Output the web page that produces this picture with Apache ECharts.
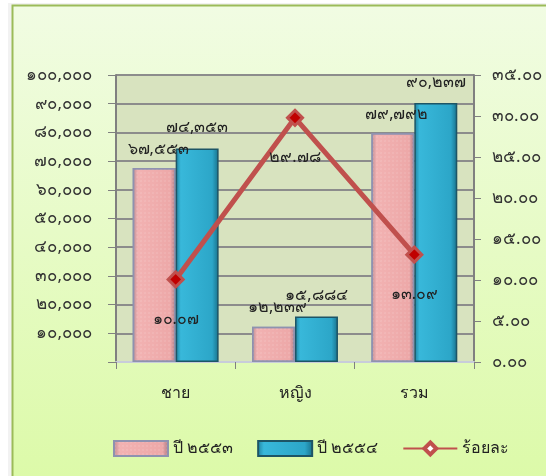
<!DOCTYPE html>
<html><head><meta charset="utf-8">
<script src="https://cdn.jsdelivr.net/npm/echarts@6/dist/echarts.min.js"></script>
<style>html,body{margin:0;padding:0;background:#fff}#c{width:546px;height:476px}</style>
</head><body><div id="c"></div>
<script>
const categories = ['ชาย', 'หญิง', 'รวม'];
const seriesNames = ['ปี ๒๕๕๓', 'ปี ๒๕๕๔', 'ร้อยละ'];
const values2553 = [67553, 12239, 79792];
const values2554 = [74353, 15884, 90237];
const percent = [10.07, 29.78, 13.09];

const TH = '๐๑๒๓๔๕๖๗๘๙';
const th = s => String(s).replace(/\d/g, d => TH[d]);
const comma = n => String(Math.round(n)).replace(/\B(?=(\d{3})+(?!\d))/g, ',');
const FONT = 'Tahoma, "Noto Sans", "DejaVu Sans", sans-serif';

const chart = echarts.init(document.getElementById('c'), null, {renderer: 'canvas'});
chart.setOption({
  animation: false,
  backgroundColor: '#ffffff',
  graphic: [
    {type: 'rect', z: -10, shape: {x: 8, y: 3, width: 546, height: 480},
     style: {fill: 'rgba(0,0,0,0.05)'}},
    {type: 'rect', z: -9, shape: {x: 12.5, y: 5.5, width: 540, height: 476},
     style: {fill: new echarts.graphic.LinearGradient(0, 0, 0, 1, [
       {offset: 0, color: '#F1FCE3'}, {offset: 1, color: '#DCFAA8'}]),
       stroke: '#9BBB59', lineWidth: 2}}
  ],
  grid: {left: 116, right: 72, top: 75, bottom: 114, show: true,
         backgroundColor: '#D8E3BF', borderWidth: 0},
  legend: {
    top: 435, left: 108, itemWidth: 54, itemHeight: 15, itemGap: 24,
    textStyle: {fontFamily: FONT, fontSize: 16, color: '#222'},
    data: [
      {name: seriesNames[0], icon: 'rect'},
      {name: seriesNames[1], icon: 'rect'},
      {name: seriesNames[2], itemStyle: {color: '#FFFFFF', borderColor: '#C0504D', borderWidth: 4}}
    ]
  },
  xAxis: {
    type: 'category', data: categories,
    axisLine: {lineStyle: {color: '#C8CCDA', width: 2}},
    axisTick: {show: true, length: 7, lineStyle: {color: '#808080'}},
    axisLabel: {fontFamily: FONT, fontSize: 16, color: '#222', margin: 23}
  },
  yAxis: [
    {type: 'value', min: 0, max: 100000, interval: 10000,
     axisLine: {show: true, lineStyle: {color: '#808080', width: 2}},
     axisTick: {show: true, length: 8, lineStyle: {color: '#808080'}},
     splitLine: {lineStyle: {color: '#8C8C8C', width: 2}},
     axisLabel: {fontFamily: FONT, fontSize: 17, color: '#333', margin: 24,
       formatter: v => v === 0 ? '' : th(comma(v))}},
    {type: 'value', min: 0, max: 35, interval: 5,
     axisLine: {show: true, lineStyle: {color: '#808080', width: 2}},
     axisTick: {show: true, length: 7, lineStyle: {color: '#808080'}},
     splitLine: {show: false},
     axisLabel: {fontFamily: FONT, fontSize: 17, color: '#333', margin: 18,
       formatter: v => th(v.toFixed(2))}}
  ],
  series: [
    {name: seriesNames[0], type: 'bar', data: values2553, barGap: '0%', barCategoryGap: '28%',
     itemStyle: {color: new echarts.graphic.LinearGradient(0, 0, 1, 0, [
       {offset: 0, color: '#B98A92'}, {offset: 0.12, color: '#F2B2B2'},
       {offset: 0.88, color: '#EDA8A8'}, {offset: 1, color: '#A77A84'}]),
       borderColor: '#8E92B0', borderWidth: 1.5,
       decal: {symbol: 'rect', symbolSize: 0.5, dashArrayX: [2, 2], dashArrayY: [2, 2],
         color: 'rgba(255,255,255,0.35)'}},
     label: {show: true, position: 'top', distance: 11, offset: [4, 0],
       fontFamily: FONT, fontSize: 16, color: '#222', formatter: p => th(comma(p.value))}},
    {name: seriesNames[1], type: 'bar', data: values2554,
     itemStyle: {color: new echarts.graphic.LinearGradient(0, 0, 1, 0, [
       {offset: 0, color: '#1E7F9C'}, {offset: 0.12, color: '#38B8DA'},
       {offset: 0.85, color: '#2CA6C8'}, {offset: 1, color: '#18708A'}]),
       borderColor: '#1D5566', borderWidth: 1.5},
     label: {show: true, position: 'top', distance: 13, offset: [0, 0],
       fontFamily: FONT, fontSize: 16, color: '#222', formatter: p => th(comma(p.value))}},
    {name: seriesNames[2], type: 'line', yAxisIndex: 1, data: percent,
     lineStyle: {color: '#C0504D', width: 5},
     symbol: 'diamond', symbolSize: 15,
     itemStyle: {color: '#C00000', borderColor: '#C0504D', borderWidth: 3},
     label: {show: true, position: 'bottom', distance: 23,
       fontFamily: FONT, fontSize: 16, color: '#222', formatter: p => th(p.value.toFixed(2))}}
  ]
});
</script></body></html>
